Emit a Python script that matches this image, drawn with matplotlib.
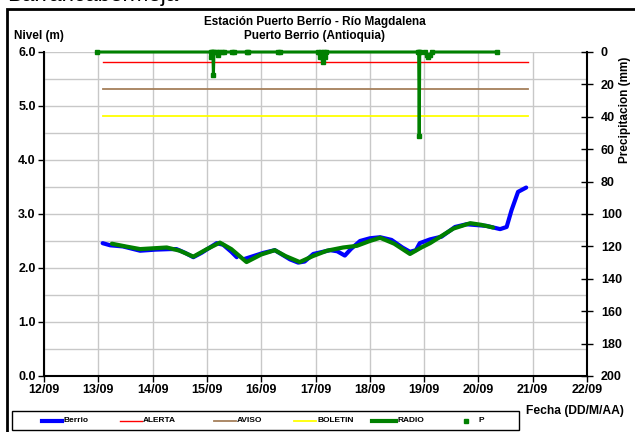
import numpy as np
import matplotlib
matplotlib.use("Agg")
import matplotlib.pyplot as plt
from matplotlib.patches import Rectangle
from matplotlib.lines import Line2D

plt.rcParams['font.family'] = ['Liberation Sans', 'DejaVu Sans']

# x values are days counted from 12/09
date_labels = ['12/09', '13/09', '14/09', '15/09', '16/09', '17/09',
               '18/09', '19/09', '20/09', '21/09', '22/09']

berrio_day = [1.08, 1.22, 1.45, 1.77, 2.05, 2.32, 2.44, 2.60, 2.75, 2.90, 3.18, 3.30,
              3.45, 3.55, 3.62, 3.70, 4.04, 4.25, 4.53, 4.68, 4.80, 4.96, 5.27, 5.40,
              5.54, 5.65, 5.82, 6.00, 6.19, 6.40, 6.60, 6.74, 6.85, 6.92, 7.11, 7.32,
              7.57, 7.78, 8.15, 8.40, 8.52, 8.61, 8.73, 8.88]
berrio_lvl = [2.46, 2.42, 2.40, 2.32, 2.34, 2.35, 2.35, 2.28, 2.20, 2.28, 2.46, 2.43,
              2.30, 2.20, np.nan, 2.17, 2.28, 2.33, 2.16, 2.10, 2.12, 2.26, 2.33, 2.31,
              2.23, 2.35, 2.50, 2.55, 2.57, 2.52, 2.38, 2.30, 2.33, 2.46, 2.53, 2.58,
              2.76, 2.81, 2.78, 2.72, 2.76, 3.07, 3.41, 3.49]

radio_day = [1.25, 1.50, 1.77, 2.26, 2.50, 2.75, 3.00, 3.24, 3.45, 3.73, 4.00, 4.25,
             4.45, 4.71, 4.95, 5.21, 5.51, 5.76, 6.00, 6.19, 6.45, 6.74, 6.95, 7.11,
             7.30, 7.54, 7.85, 8.05, 8.27]
radio_lvl = [2.45, 2.40, 2.35, 2.38, 2.32, 2.21, 2.35, 2.47, 2.35, 2.11, 2.25, 2.33,
             2.22, 2.11, 2.22, 2.32, 2.38, 2.41, 2.50, 2.56, 2.45, 2.26, 2.38, 2.46,
             2.58, 2.73, 2.83, 2.80, 2.75]

alerta = 5.82
aviso = 5.31
boletin = 4.82
umbral_day = [1.08, 8.91]

p_day = [0.98, 3.07, 3.08, 3.09, 3.11, 3.12, 3.13, 3.18, 3.20, 3.22,
         3.28, 3.29, 3.31, 3.47, 3.48, 3.50, 3.73, 3.74, 3.76, 4.31, 4.32, 4.34,
         5.05, 5.08, 5.10, 5.12, 5.13, 5.15, 5.18, 5.20, 6.89, 6.90, 6.91,
         6.92, 7.02, 7.05, 7.08, 7.11, 7.14, 8.35]
p_mm = [0, 0, 3, 0, 0, 14.3, 0, 0, 2, 0,
        0, np.nan, 0, 0, np.nan, 0, 0, np.nan, 0, 0, np.nan, 0,
        0, 3, 0, 3, 6, 0, 3, 0, 0, 0, 51.7,
        0, 0, 2, 3, 2, 0, 0]

fig = plt.figure(figsize=(6.35, 4.32), dpi=100)
W, H = 635, 432


def fx(px):
    return px / W


def fy(py):
    return 1 - py / H


ax = fig.add_axes([fx(44), fy(376), 543 / W, 324 / H])
ax2 = ax.twinx()

ax.set_xlim(0, 10)
ax.set_ylim(0, 6)
ax.set_xticks(range(len(date_labels)))
ax.set_xticklabels(date_labels)
ax.set_yticks(np.arange(0, 6.01, 1.0))
ax.set_yticklabels(['%.1f' % v for v in np.arange(0, 6.01, 1.0)])
ax.set_yticks(np.arange(0.5, 6, 1.0), minor=True)
ax.grid(True, which='both', color='#C8C8C8', lw=1)
ax.set_axisbelow(True)
ax.tick_params(which='minor', length=0)
ax.tick_params(which='major', direction='out', length=4, width=1,
               labelsize=9, pad=2)
for lab in ax.get_xticklabels() + ax.get_yticklabels():
    lab.set_fontweight('bold')
ax.spines['top'].set_visible(False)
ax.spines['right'].set_visible(False)
ax.spines['left'].set_linewidth(1.5)
ax.spines['bottom'].set_linewidth(1.5)

ax.plot(umbral_day, [alerta, alerta], color='#FF0000', lw=1)
ax.plot(umbral_day, [aviso, aviso], color='#A57F5A', lw=1.3)
ax.plot(umbral_day, [boletin, boletin], color='#FFFF00', lw=1.3)
ax.plot(berrio_day, berrio_lvl, color='#0000FF', lw=3, solid_capstyle='round')
ax.plot(radio_day, radio_lvl, color='#008000', lw=3, solid_capstyle='round')

ax2.set_ylim(200, 0)
ax2.set_yticks(range(0, 201, 20))
ax2.tick_params(direction='inout', length=8, width=1, labelsize=9, pad=6)
for lab in ax2.get_yticklabels():
    lab.set_fontweight('bold')
for s in ['top', 'left', 'bottom']:
    ax2.spines[s].set_visible(False)
ax2.spines['right'].set_linewidth(1.5)
ax2.plot(p_day, p_mm, color='#008000', lw=2.2, marker='s', markersize=2.4,
         clip_on=False)

fig.text(fx(315), fy(22), 'Estación Puerto Berrío - Río Magdalena',
         ha='center', va='center', fontsize=8.5, fontweight='bold')
fig.text(fx(315), fy(36), 'Puerto Berrio (Antioquia)',
         ha='center', va='center', fontsize=8.5, fontweight='bold')
fig.text(fx(14), fy(36), 'Nivel (m)', ha='left', va='center',
         fontsize=8.5, fontweight='bold')
fig.text(fx(625), fy(110), 'Precipitacion (mm)', ha='center', va='center',
         rotation=90, fontsize=8.5, fontweight='bold')
fig.text(fx(575), fy(411), 'Fecha (DD/M/AA)', ha='center', va='center',
         fontsize=8.7, fontweight='bold')
fig.text(fx(7), fy(1), 'Barrancabermeja', ha='left', va='baseline',
         fontsize=16)

# outer frame
fig.add_artist(Rectangle((fx(7), -0.1), 1.0, fy(9) + 0.1,
                         transform=fig.transFigure, fill=False,
                         edgecolor='black', lw=2))

# legend drawn by hand to match Excel spacing
fig.add_artist(Rectangle((fx(12), fy(430)), (519 - 12) / W, 19 / H,
                         transform=fig.transFigure, fill=False,
                         edgecolor='black', lw=1))
ly = fy(421)
legend_items = [
    ('Berrio', 42, 62, dict(color='#0000FF', lw=3)),
    ('ALERTA', 120, 142, dict(color='#FF0000', lw=1)),
    ('AVISO', 214, 236, dict(color='#A57F5A', lw=1.3)),
    ('BOLETIN', 294, 316, dict(color='#FFFF00', lw=1.3)),
    ('RADIO', 372, 396, dict(color='#008000', lw=3)),
]
for name, x0, x1, style in legend_items:
    fig.add_artist(Line2D([fx(x0), fx(x1)], [ly, ly],
                          transform=fig.transFigure, **style))
    fig.text(fx(x1 + 1), ly, name, ha='left', va='center', fontsize=6,
             fontweight='bold')
fig.add_artist(Line2D([fx(466)], [ly], transform=fig.transFigure, lw=0,
                      marker='s', markersize=2.4, color='#008000'))
fig.text(fx(479), ly, 'P', ha='left', va='center', fontsize=6,
         fontweight='bold')

fig.savefig('out.png', dpi=100)
